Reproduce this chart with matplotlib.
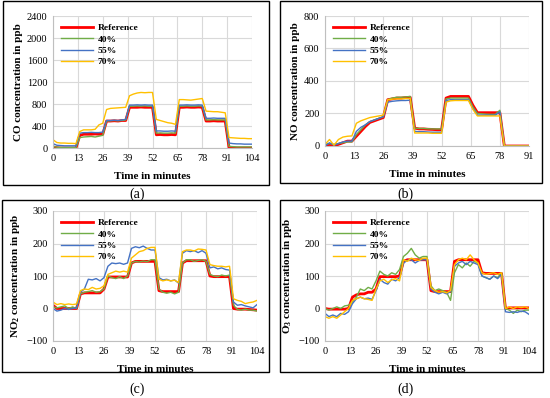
import matplotlib
matplotlib.use('Agg')
import matplotlib.pyplot as plt
from matplotlib.patches import Rectangle

plt.rcParams['font.family'] = ['Liberation Serif', 'DejaVu Serif']
plt.rcParams['mathtext.fontset'] = 'custom'
plt.rcParams['mathtext.rm'] = 'Liberation Serif'
plt.rcParams['mathtext.bf'] = 'Liberation Serif:bold'

# time grid (minutes)
t = list(range(0, 105, 2))
t_no = list(range(0, 91, 2)) + [91]

# (a) CO
co_ref = [20, 5, 0, 0, 0, 0, 0, 230, 250, 250, 250, 255, 250, 250, 490, 490, 495, 490, 500, 500, 740, 740, 740, 745, 740, 740,
          740, 240, 245, 240, 240, 245, 240, 740, 740, 745, 740, 740, 745, 740, 490, 490, 495, 490, 490, 490, 10, 5, 0, 0, 0, 0, 0]
co_40 = [30, 15, 10, 10, 10, 10, 10, 190, 200, 205, 210, 200, 215, 230, 490, 495, 500, 495, 500, 510, 760, 760, 765, 760, 765, 760,
         760, 270, 275, 270, 270, 275, 270, 760, 760, 765, 760, 760, 765, 760, 510, 510, 515, 510, 510, 510, 30, 25, 20, 20, 20, 20, 20]
co_55 = [80, 50, 45, 40, 40, 40, 40, 270, 280, 280, 285, 280, 280, 290, 500, 500, 505, 500, 510, 520, 780, 780, 785, 780, 785, 780,
         780, 310, 310, 305, 305, 310, 305, 780, 780, 785, 780, 780, 785, 780, 540, 540, 545, 540, 540, 540, 90, 80, 75, 75, 70, 70, 70]
co_70 = [150, 100, 90, 90, 85, 85, 80, 300, 330, 330, 330, 340, 420, 450, 700, 720, 725, 730, 735, 740, 950, 980, 1000, 1010, 1005, 1010,
         1010, 520, 500, 480, 460, 450, 430, 880, 880, 875, 870, 880, 890, 900, 670, 665, 660, 660, 650, 640, 190, 185, 180, 175, 175, 170, 170]

# (b) NO
no_ref = [0, 10, 0, 10, 20, 30, 30, 60, 90, 120, 145, 155, 165, 175, 285, 290, 295, 295, 298, 300, 110, 105, 105, 103, 102, 100,
          100, 295, 305, 305, 305, 305, 305, 250, 205, 205, 205, 205, 205, 205, 0, 0, 0, 0, 0, 0, 0]
no_40 = [10, 15, 10, 15, 20, 25, 25, 70, 100, 130, 150, 160, 170, 180, 285, 295, 300, 300, 302, 305, 110, 108, 108, 106, 105, 105,
         105, 290, 295, 295, 295, 295, 295, 240, 200, 198, 196, 195, 195, 220, 0, 0, 0, 0, 0, 0, 0]
no_55 = [0, 20, 5, 15, 25, 30, 30, 90, 115, 130, 150, 160, 170, 180, 270, 275, 278, 280, 280, 282, 90, 88, 88, 86, 85, 85,
         85, 280, 285, 285, 285, 285, 285, 230, 190, 190, 190, 190, 190, 210, 0, 0, 0, 0, 0, 0, 0]
no_70 = [10, 40, 5, 40, 55, 60, 62, 140, 155, 165, 175, 180, 185, 190, 285, 288, 290, 290, 292, 292, 80, 80, 80, 80, 78, 78,
         78, 270, 278, 280, 280, 280, 280, 225, 185, 185, 185, 185, 185, 185, 0, 0, 0, 0, 0, 0, 0]

# (c) NO2
no2_ref = [10, 0, 0, 0, 0, 0, 0, 45, 48, 48, 48, 48, 48, 60, 97, 97, 97, 97, 97, 97, 140, 145, 145, 145, 145, 145,
           145, 55, 52, 52, 52, 52, 52, 140, 147, 147, 147, 147, 147, 147, 100, 98, 98, 98, 98, 98, 0, -2, -2, -2, -3, -4, -5]
no2_40 = [5, 2, 5, 8, 0, 5, 0, 45, 50, 52, 55, 50, 52, 60, 100, 95, 92, 98, 92, 100, 140, 145, 143, 146, 144, 150,
          150, 60, 50, 47, 50, 45, 50, 140, 150, 150, 145, 148, 150, 145, 105, 100, 98, 103, 100, 103, 10, -3, -5, -2, -5, -5, -8]
no2_55 = [0, -8, -5, 0, -3, 0, 2, 50, 60, 90, 88, 92, 85, 95, 130, 140, 138, 140, 136, 140, 185, 190, 187, 192, 185, 180,
          180, 95, 88, 90, 85, 88, 78, 170, 178, 175, 178, 172, 178, 170, 125, 128, 122, 125, 120, 118, 20, 10, 12, 8, 5, 2, 12]
no2_70 = [20, 12, 15, 12, 14, 12, 14, 55, 60, 58, 65, 60, 62, 70, 105, 110, 115, 112, 115, 112, 155, 165, 175, 178, 185, 188,
          188, 90, 85, 88, 85, 87, 80, 175, 180, 180, 177, 183, 182, 180, 135, 132, 130, 130, 128, 130, 30, 25, 22, 15, 18, 20, 25]

# (d) O3
o3_ref = [0, -2, -2, -2, -2, -2, 0, 35, 42, 45, 45, 50, 50, 60, 98, 98, 98, 98, 98, 100, 145, 150, 150, 150, 150, 150,
          150, 55, 52, 52, 52, 52, 52, 145, 150, 150, 150, 150, 150, 150, 110, 108, 108, 108, 108, 108, 0, 2, 2, 2, 2, 2, 2]
o3_40 = [0, -5, 0, 5, 0, 8, 10, 20, 35, 60, 55, 65, 60, 85, 115, 105, 100, 110, 105, 120, 160, 170, 185, 165, 155, 160,
         160, 70, 55, 60, 55, 50, 25, 110, 135, 125, 140, 130, 145, 140, 100, 95, 90, 100, 95, 110, 0, -5, -15, -5, -10, -5, -5]
o3_55 = [-15, -25, -20, -25, -15, -18, -10, 15, 30, 35, 30, 32, 28, 55, 90, 80, 75, 90, 85, 95, 140, 148, 150, 140, 148, 150,
         150, 60, 50, 45, 50, 45, 52, 130, 140, 145, 135, 145, 140, 135, 100, 95, 90, 100, 92, 105, -10, -12, -10, -12, -8, -10, -18]
o3_70 = [-25, -30, -25, -30, -20, -10, 0, 25, 30, 35, 30, 28, 25, 60, 85, 90, 80, 88, 92, 85, 150, 145, 155, 150, 148, 155,
         155, 65, 55, 50, 52, 48, 55, 135, 150, 155, 150, 165, 150, 140, 110, 105, 108, 110, 105, 110, 0, 5, 0, 5, 3, 5, 0]

names = ['Reference', '40%', '55%', '70%']
colors = ['#FF0000', '#70AD47', '#4472C4', '#FFC000']
widths = [2.0, 1.0, 1.0, 1.0]

panels = [
    (t, [co_ref, co_40, co_55, co_70], 'CO concentration in ppb', (0, 2400), list(range(0, 2401, 400)), list(range(0, 105, 13)), 104, '(a)'),
    (t_no, [no_ref, no_40, no_55, no_70], 'NO concentration in ppb', (0, 800), list(range(0, 801, 200)), list(range(0, 92, 13)), 91, '(b)'),
    (t, [no2_ref, no2_40, no2_55, no2_70], r'NO$_\mathbf{2}$ concentration in ppb', (-100, 300), list(range(-100, 301, 100)), list(range(0, 105, 13)), 104, '(c)'),
    (t, [o3_ref, o3_40, o3_55, o3_70], r'O$_\mathbf{3}$ concentration in ppb', (-100, 300), list(range(-100, 301, 100)), list(range(0, 105, 13)), 104, '(d)'),
]

W, H = 550, 398
fig = plt.figure(figsize=(5.5, 3.98), dpi=100)

# axes boxes in pixels: left, top, right, bottom
ax_px = [(53, 16, 252, 148), (325, 16, 529, 146), (53, 211, 257, 341), (325, 211, 529, 341)]
frame_px = [(3, 1, 269, 185), (280, 1, 542, 183), (2, 200, 269, 372), (280, 200, 543, 372)]
label_px = [(137, 194), (405, 194), (137, 389), (405, 389)]

for i, (x, series, ylab, ylim, yticks, xticks, xmax, lab) in enumerate(panels):
    l, tp, r, b = ax_px[i]
    ax = fig.add_axes([l / W, 1 - b / H, (r - l) / W, (b - tp) / H])
    for s, name, c, lw in zip(series, names, colors, widths):
        ax.plot(x, s, color=c, lw=lw, label=name)
    ax.set_xlim(0, xmax)
    ax.set_ylim(*ylim)
    ax.set_xticks(xticks)
    ax.set_yticks(yticks)
    ax.set_yticklabels([str(v).replace('-', '\u2212') for v in yticks])
    ax.grid(True, color='#D9D9D9', lw=0.8)
    ax.set_axisbelow(True)
    for side in ['top', 'right']:
        ax.spines[side].set_visible(False)
    for side in ['left', 'bottom']:
        ax.spines[side].set_color('#BFBFBF')
        ax.spines[side].set_linewidth(0.8)
    ax.tick_params(length=0, labelsize=7.5, pad=4)
    ax.set_ylabel(ylab, fontsize=8, fontweight='bold', labelpad=3)
    ax.set_xlabel('Time in minutes', fontsize=8, fontweight='bold', labelpad=7)
    ax.legend(loc='upper left', frameon=False, handlelength=3.4, handletextpad=0.5,
              labelspacing=0.3, borderaxespad=0.4, prop={'weight': 'bold', 'size': 6.8})

    fl, ft, fr, fb = frame_px[i]
    fig.patches.append(Rectangle((fl / W, 1 - fb / H), (fr - fl) / W, (fb - ft) / H,
                                 transform=fig.transFigure, fill=False, ec='black', lw=1.0))
    lx, ly = label_px[i]
    fig.text(lx / W, 1 - ly / H, lab, ha='center', va='center', fontsize=10)

fig.savefig('out.png', dpi=100)
